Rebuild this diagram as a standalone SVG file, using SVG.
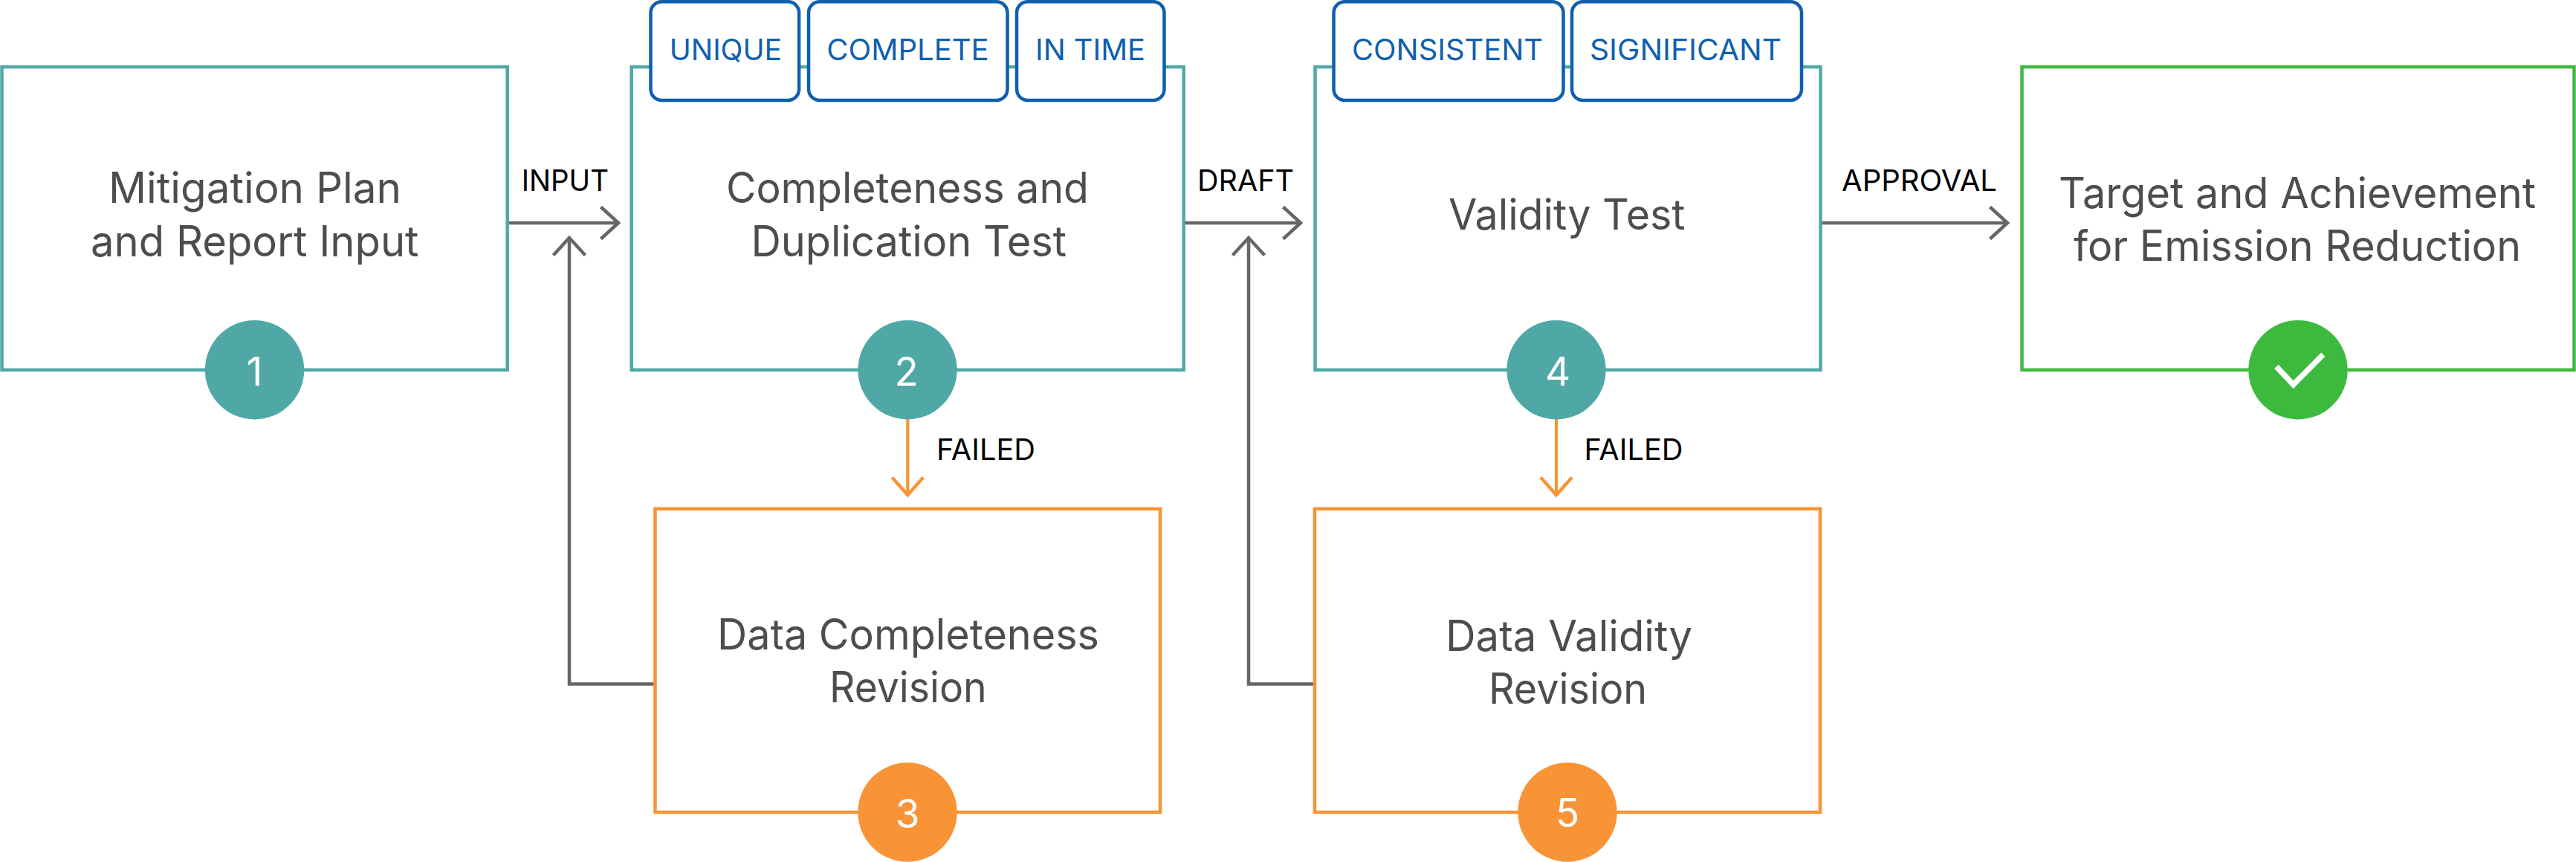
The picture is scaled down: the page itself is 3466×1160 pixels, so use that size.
<svg xmlns="http://www.w3.org/2000/svg" width="3466" height="1160" viewBox="0 0 3466 1160">
<defs>
<style>
text{font-family:"Inter","Liberation Sans",sans-serif;font-variant-ligatures:none}
.box{fill:#fff;stroke-width:4.5}
.teal{stroke:#4fa8a6}.orange{stroke:#f89436}.green{stroke:#3dba3d}
.main{font-size:57px;fill:#4d4d4d}
.tag rect{fill:#fff;stroke:#0f5fae;stroke-width:4.5}
.tagt{font-size:39px;fill:#0f5fae}
.lab{font-size:39px;fill:#000}
.num{font-size:53px;fill:#fff;text-anchor:middle}
.gray{fill:none;stroke:#666;stroke-width:4.5;marker-end:url(#ag)}
.orl{fill:none;stroke:#f89436;stroke-width:4.2;marker-end:url(#ao)}
</style>
<marker id="ag" markerUnits="userSpaceOnUse" markerWidth="60" markerHeight="60" viewBox="-40 -30 60 60" refX="0" refY="0" orient="auto"><path d="M-23.5,-21.5 L0,0 L-23.5,21.5" fill="none" stroke="#666" stroke-width="4.5"/></marker>
<marker id="ao" markerUnits="userSpaceOnUse" markerWidth="60" markerHeight="60" viewBox="-40 -30 60 60" refX="0" refY="0" orient="auto"><path d="M-23.5,-21 L0,0 L-23.5,21" fill="none" stroke="#f89436" stroke-width="4.5"/></marker>
</defs>
<rect width="3466" height="1160" fill="#fff"/>
<g id="connectors">
<path class="gray" d="M684,300H832"/>
<path class="gray" d="M881,920.5H766V320"/>
<path class="gray" d="M1593,300H1750"/>
<path class="gray" d="M1769,920.5H1680V320"/>
<path class="gray" d="M2450,300H2701"/>
<path class="orl" d="M1221.3,564V666"/>
<path class="orl" d="M2094,564V666"/>
<text class="lab" x="701.7" y="256.7" textLength="117.3" lengthAdjust="spacingAndGlyphs">INPUT</text>
<text class="lab" x="1611" y="256.7" textLength="130" lengthAdjust="spacingAndGlyphs">DRAFT</text>
<text class="lab" x="2478" y="256.7" textLength="209" lengthAdjust="spacingAndGlyphs">APPROVAL</text>
<text class="lab" x="1260" y="619" textLength="133" lengthAdjust="spacingAndGlyphs">FAILED</text>
<text class="lab" x="2131.5" y="619" textLength="133" lengthAdjust="spacingAndGlyphs">FAILED</text>
</g>
<g id="node1">
<rect class="box teal" x="2.5" y="90" width="680.2" height="407.8"/>
<text class="main" x="146" y="273.4" textLength="394" lengthAdjust="spacingAndGlyphs">Mitigation Plan</text>
<text class="main" x="122" y="345" textLength="441.5" lengthAdjust="spacingAndGlyphs">and Report Input</text>
<circle cx="342.5" cy="497.7" r="66.7" fill="#4fa8a6"/>
<text class="num" x="342.5" y="518.7">1</text>
</g>
<g id="node2">
<rect class="box teal" x="849.7" y="90" width="743" height="407.8"/>
<text class="main" x="977" y="273.4" textLength="488" lengthAdjust="spacingAndGlyphs">Completeness and</text>
<text class="main" x="1010.5" y="345" textLength="424.5" lengthAdjust="spacingAndGlyphs">Duplication Test</text>
<circle cx="1221" cy="497.7" r="66.7" fill="#4fa8a6"/>
<text class="num" x="1219.6" y="518.7">2</text>
</g>
<g id="tag-unique" class="tag"><rect x="875.5" y="2.3" width="199.6" height="132.7" rx="15"/><text class="tagt" x="900.7" y="81.3" textLength="151.3" lengthAdjust="spacingAndGlyphs">UNIQUE</text></g>
<g id="tag-complete" class="tag"><rect x="1088" y="2.3" width="267.5" height="132.7" rx="15"/><text class="tagt" x="1112.3" y="81.3" textLength="218.4" lengthAdjust="spacingAndGlyphs">COMPLETE</text></g>
<g id="tag-intime" class="tag"><rect x="1368" y="2.3" width="198.5" height="132.7" rx="15"/><text class="tagt" x="1393" y="81.3" textLength="148" lengthAdjust="spacingAndGlyphs">IN TIME</text></g>
<g id="node3">
<rect class="box orange" x="881.5" y="684.7" width="679.5" height="408.3"/>
<text class="main" x="965" y="874.3" textLength="514" lengthAdjust="spacingAndGlyphs">Data Completeness</text>
<text class="main" x="1116" y="945" textLength="211.7" lengthAdjust="spacingAndGlyphs">Revision</text>
<circle cx="1221" cy="1093" r="66.7" fill="#f89436"/>
<text class="num" x="1221" y="1114">3</text>
</g>
<g id="node4">
<rect class="box teal" x="1769.5" y="90" width="680" height="407.8"/>
<text class="main" x="1949" y="309.3" textLength="318.5" lengthAdjust="spacingAndGlyphs">Validity Test</text>
<circle cx="2094" cy="497.7" r="66.7" fill="#4fa8a6"/>
<text class="num" x="2096" y="518.7">4</text>
</g>
<g id="tag-consistent" class="tag"><rect x="1794.5" y="2.3" width="309" height="132.7" rx="15"/><text class="tagt" x="1819" y="81.3" textLength="257" lengthAdjust="spacingAndGlyphs">CONSISTENT</text></g>
<g id="tag-significant" class="tag"><rect x="2115" y="2.3" width="309" height="132.7" rx="15"/><text class="tagt" x="2139" y="81.3" textLength="258" lengthAdjust="spacingAndGlyphs">SIGNIFICANT</text></g>
<g id="node5">
<rect class="box orange" x="1769" y="684.7" width="680" height="408.3"/>
<text class="main" x="1945" y="875.9" textLength="332" lengthAdjust="spacingAndGlyphs">Data Validity</text>
<text class="main" x="2003" y="947" textLength="213" lengthAdjust="spacingAndGlyphs">Revision</text>
<circle cx="2109" cy="1093" r="66.7" fill="#f89436"/>
<text class="num" x="2109" y="1112.5">5</text>
</g>
<g id="node6">
<rect class="box green" x="2720.5" y="90" width="743" height="407.8"/>
<text class="main" x="2770" y="279.6" textLength="642" lengthAdjust="spacingAndGlyphs">Target and Achievement</text>
<text class="main" x="2790" y="350.6" textLength="602" lengthAdjust="spacingAndGlyphs">for Emission Reduction</text>
<circle cx="3092" cy="497.7" r="66.7" fill="#3dba3d"/>
<path d="M3062.8,493.3L3085.7,517.5L3125.8,477.2" fill="none" stroke="#fff" stroke-width="7.5"/>
</g>
</svg>
